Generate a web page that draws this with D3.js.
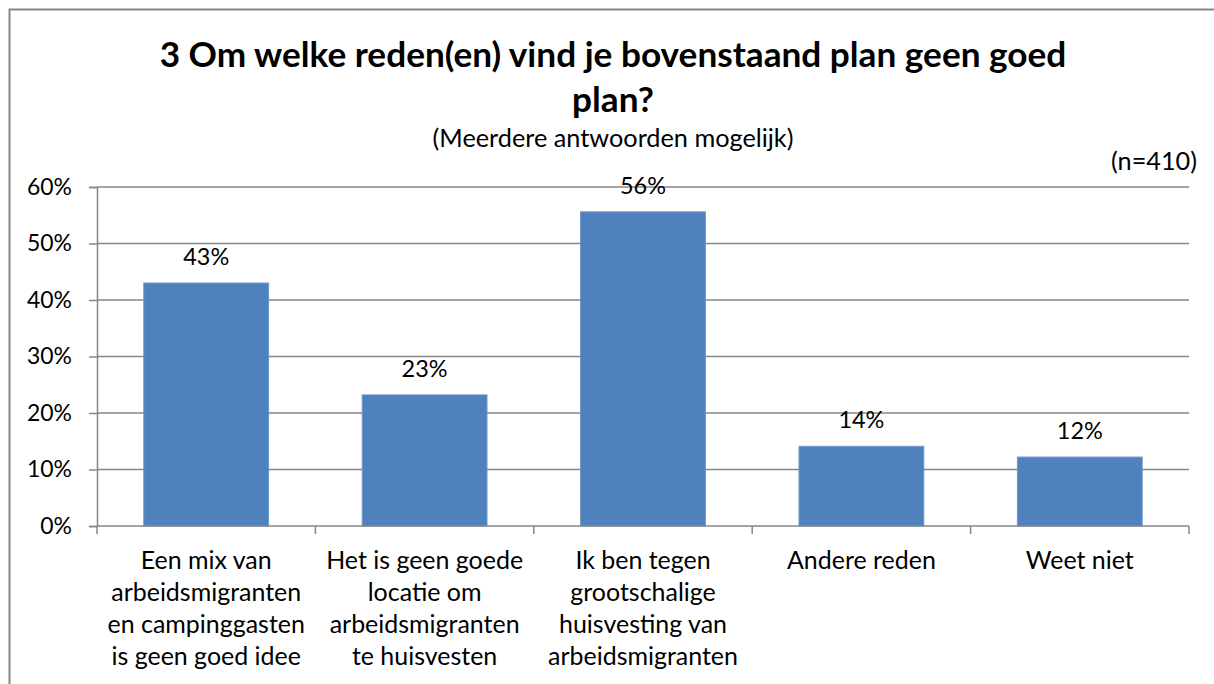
<!DOCTYPE html>
<html>
<head>
<meta charset="utf-8">
<script src="https://cdn.jsdelivr.net/npm/d3@7"></script>
<style>
  html, body { margin: 0; padding: 0; background: #fff; }
  svg { display: block; }
  text { font-family: Lato, "Open Sans", sans-serif; fill: #000; }
</style>
</head>
<body>
<svg id="chart" width="1214" height="684"></svg>
<script>
// ---- data ----
const categories = [
  "Een mix van\narbeidsmigranten\nen campinggasten\nis geen goed idee",
  "Het is geen goede\nlocatie om\narbeidsmigranten\nte huisvesten",
  "Ik ben tegen\ngrootschalige\nhuisvesting van\narbeidsmigranten",
  "Andere reden",
  "Weet niet"
];
const values = [43, 23.2, 55.6, 14.1, 12.2];
const valueLabels = ["43%", "23%", "56%", "14%", "12%"];
const yTicks = [0, 10, 20, 30, 40, 50, 60];
const titleLines = ["3 Om welke reden(en) vind je bovenstaand plan geen goed", "plan?"];
const subtitle = "(Meerdere antwoorden mogelijk)";
const nLabel = "(n=410)";

// ---- layout ----
const W = 1214, H = 684;
const svg = d3.select("#chart");
const plot = { left: 97, right: 1189, top: 187, bottom: 526 };

// measure helper to size fonts to target widths
function fitSize(str, target, weight) {
  const t = svg.append("text").attr("font-size", 100).attr("font-weight", weight || "normal").text(str);
  const w = t.node().getComputedTextLength();
  t.remove();
  return 100 * target / w;
}
const fsTitle = fitSize(titleLines[0], 907, "bold");
const fsSub = fitSize(subtitle, 361);
const fsCat = fitSize("arbeidsmigranten", 190);
const fsTick = fitSize("60%", 45);
const fsVal = fitSize("43%", 46);

// frame
svg.append("rect").attr("x", 9.5).attr("y", 9.5).attr("width", 1215).attr("height", 690)
  .attr("fill", "none").attr("stroke", "#868686").attr("stroke-width", 2);

const x = d3.scaleBand().domain(d3.range(categories.length)).range([plot.left, plot.right])
  .paddingInner(0.75 / 1.75).paddingOuter(0.75 / 1.75 / 2);
const xOuter = d3.scaleBand().domain(d3.range(categories.length)).range([plot.left, plot.right]);
const y = d3.scaleLinear().domain([0, 60]).range([plot.bottom, plot.top]);

// gridlines
svg.append("g").selectAll("line").data(yTicks.filter(d => d > 0)).join("line")
  .attr("x1", plot.left).attr("x2", plot.right)
  .attr("y1", d => y(d)).attr("y2", d => y(d))
  .attr("stroke", "#868686").attr("stroke-width", 1.5);

// y axis
const yAxis = d3.axisLeft(y).tickValues(yTicks).tickFormat(d => d + "%").tickSize(8).tickPadding(17);
const gy = svg.append("g").attr("transform", `translate(${plot.left},0)`).call(yAxis);
gy.select(".domain").attr("stroke", "#868686").attr("stroke-width", 1.5);
gy.selectAll(".tick line").attr("stroke", "#868686").attr("stroke-width", 1.5);
gy.selectAll("text").attr("font-size", fsTick).attr("font-family", "Lato").attr("fill", "#000");

// bars
svg.append("g").selectAll("rect").data(values).join("rect")
  .attr("x", (d, i) => x(i)).attr("width", x.bandwidth())
  .attr("y", d => y(d)).attr("height", d => plot.bottom - y(d))
  .attr("fill", "#4F81BD").attr("stroke", "#6d96c9").attr("stroke-width", 1);

// x axis
svg.append("line").attr("x1", plot.left).attr("x2", plot.right)
  .attr("y1", plot.bottom).attr("y2", plot.bottom)
  .attr("stroke", "#868686").attr("stroke-width", 1.5);
const xTicks = d3.range(categories.length + 1).map(i => i < categories.length ? xOuter(i) : plot.right);
svg.append("g").selectAll("line").data(xTicks).join("line")
  .attr("x1", d => d).attr("x2", d => d)
  .attr("y1", plot.bottom).attr("y2", plot.bottom + 8)
  .attr("stroke", "#868686").attr("stroke-width", 1.5);

// category labels
const catG = svg.append("g").selectAll("text").data(categories).join("text")
  .attr("text-anchor", "middle").attr("font-size", fsCat)
  .attr("transform", (d, i) => `translate(${x(i) + x.bandwidth() / 2},569)`);
catG.selectAll("tspan").data(d => d.split("\n")).join("tspan")
  .attr("x", 0).attr("dy", (d, i) => i === 0 ? 0 : 32).text(d => d);

// value labels
svg.append("g").selectAll("text").data(values).join("text")
  .attr("text-anchor", "middle").attr("font-size", fsVal)
  .attr("x", (d, i) => x(i) + x.bandwidth() / 2)
  .attr("y", d => y(d) - 18)
  .text((d, i) => valueLabels[i]);

// titles
svg.append("g").selectAll("text").data(titleLines).join("text")
  .attr("text-anchor", "middle").attr("font-weight", "bold").attr("font-size", fsTitle)
  .attr("x", 613).attr("y", (d, i) => 67 + i * 45).text(d => d);
svg.append("text").attr("text-anchor", "middle").attr("font-size", fsSub)
  .attr("x", 613).attr("y", 147).text(subtitle);
svg.append("text").attr("text-anchor", "end").attr("font-size", fsSub)
  .attr("x", 1197).attr("y", 170).text(nLabel);
</script>
</body>
</html>
